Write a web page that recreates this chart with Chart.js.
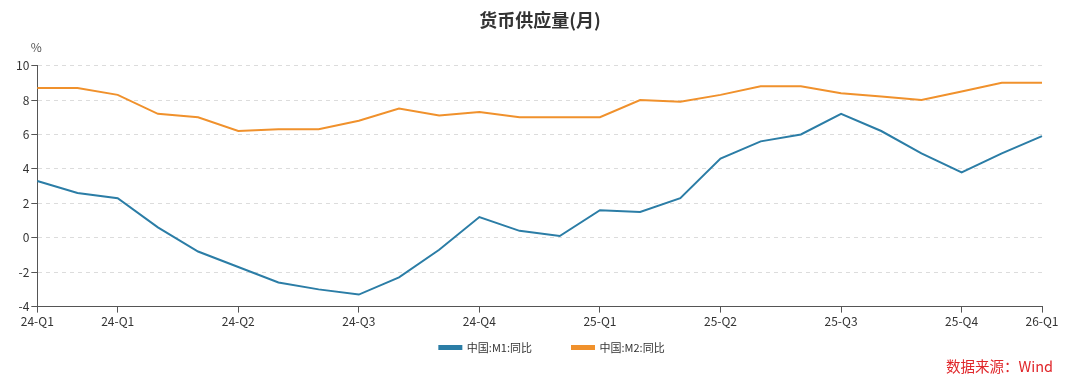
<!DOCTYPE html>
<html>
<head>
<meta charset="utf-8">
<script src="https://cdn.jsdelivr.net/npm/chart.js@4.4.1/dist/chart.umd.min.js"></script>
<style>
  html, body { margin: 0; padding: 0; background: #fff; }
  #wrap { position: relative; width: 1080px; height: 386px; }
  #source { position: absolute; right: 27px; bottom: 10px; color: #e0262a; font: 14.5px "Noto Sans CJK SC", sans-serif; }
</style>
</head>
<body>
<div id="wrap">
  <canvas id="myChart" width="1080" height="386"></canvas>
  <div id="source">数据来源：Wind</div>
</div>
<script>
// monthly points, only some carry a quarter label
const months = ["2023-12","2024-01","2024-02","2024-03","2024-04","2024-05","2024-06","2024-07","2024-08",
    "2024-09","2024-10","2024-11","2024-12","2025-01","2025-02","2025-03","2025-04","2025-05","2025-06",
    "2025-07","2025-08","2025-09","2025-10","2025-11","2025-12","2026-01"];
const tickLabels = ["24-Q1","","24-Q1","","","24-Q2","","","24-Q3","","","24-Q4","","","25-Q1","","",
    "25-Q2","","","25-Q3","","","25-Q4","","26-Q1"];
const m1 = [3.3, 2.6, 2.3, 0.6, -0.8, -1.7, -2.6, -3.0, -3.3, -2.3, -0.7, 1.2, 0.4, 0.1, 1.6, 1.5, 2.3,
    4.6, 5.6, 6.0, 7.2, 6.2, 4.9, 3.8, 4.9, 5.9];
const m2 = [8.7, 8.7, 8.3, 7.2, 7.0, 6.2, 6.3, 6.3, 6.8, 7.5, 7.1, 7.3, 7.0, 7.0, 7.0, 8.0, 7.9,
    8.3, 8.8, 8.8, 8.4, 8.2, 8.0, 8.5, 9.0, 9.0];

const font = "'Noto Sans CJK SC', sans-serif";
const ctx = document.getElementById("myChart").getContext("2d");

/* "%" above the y axis */
const unitLabel = {
    id: "unitLabel",
    afterDraw(chart) {
        const c = chart.ctx;
        c.save();
        c.font = "12px " + font;
        c.fillStyle = "#555";
        c.textAlign = "center";
        c.textBaseline = "middle";
        c.fillText("%", chart.chartArea.left - 1, 47);
        c.restore();
    }
};

/* legend padding is big for the gap between items, so pull it back up;
   title is centered on the canvas, not on the padded box */
const nudge = {
    id: "nudge",
    afterLayout(chart) {
        chart.legend.top -= 29;
        chart.legend.bottom -= 29;
        chart.legend.left += 24;
        chart.legend.right += 24;
        chart.titleBlock.left += 12;
        chart.titleBlock.right += 12;
    }
};

const myChart = new Chart(ctx, {
    type: "line",
    data: {
        labels: months,
        datasets: [{
            label: "中国:M1:同比",
            data: m1,
            borderColor: "#2b7da6",
            backgroundColor: "#2b7da6",
            borderWidth: 2,
            pointRadius: 0,
            tension: 0
        }, {
            label: "中国:M2:同比",
            data: m2,
            borderColor: "#f0912c",
            backgroundColor: "#f0912c",
            borderWidth: 2,
            pointRadius: 0,
            tension: 0
        }]
    },
    options: {
        responsive: false,
        animation: false,
        layout: { padding: { left: 14, right: 38, top: 6, bottom: -6 } },
        plugins: {
            title: {
                display: true,
                text: "货币供应量(月)",
                color: "#333",
                font: { family: font, size: 18, weight: "bold" },
                padding: { top: 3, bottom: 35 }
            },
            legend: {
                position: "bottom",
                labels: {
                    boxWidth: 22,
                    boxHeight: 3,
                    color: "#333",
                    font: { family: font, size: 11 },
                    padding: 40
                }
            },
            tooltip: { enabled: false }
        },
        scales: {
            x: {
                offset: false,
                grid: {
                    drawOnChartArea: false,
                    tickLength: 6,
                    tickColor: (c) => tickLabels[c.index] ? "#555" : "rgba(0,0,0,0)"
                },
                border: { color: "#555", width: 1 },
                ticks: {
                    autoSkip: false,
                    maxRotation: 0,
                    color: "#333",
                    font: { family: font, size: 12 },
                    padding: 2,
                    callback: (v, i) => tickLabels[i]
                }
            },
            y: {
                min: -4,
                max: 10,
                ticks: {
                    stepSize: 2,
                    color: "#333",
                    font: { family: font, size: 12 },
                    padding: 2
                },
                grid: {
                    color: (c) => c.tick && c.tick.value === -4 ? "rgba(0,0,0,0)" : "#dcdcdc",
                    tickColor: "#555",
                    tickLength: 6
                },
                border: { color: "#555", width: 1, dash: [4, 4] }
            }
        }
    },
    plugins: [unitLabel, nudge]
});
</script>
</body>
</html>
